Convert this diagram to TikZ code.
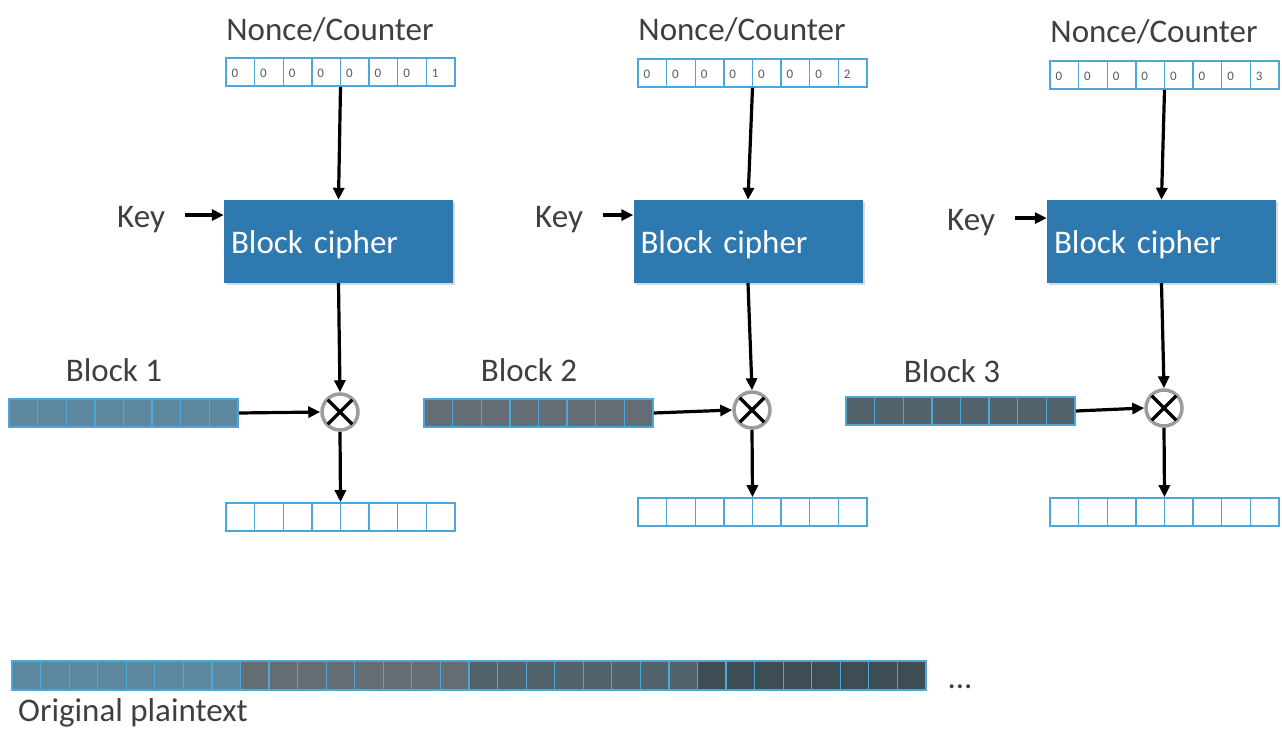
\documentclass[tikz,border=0pt]{standalone}
\usepackage{fontspec}
\setmainfont{Carlito}
\usetikzlibrary{arrows.meta,shadows}

\definecolor{cellline}{HTML}{4DA6D9}
\definecolor{cipherblue}{HTML}{2F79B1}
\definecolor{txt}{HTML}{3C4043}
\definecolor{digit}{HTML}{555A5E}
\definecolor{pA}{HTML}{5D879C}
\definecolor{pB}{HTML}{646D73}
\definecolor{pC}{HTML}{52626A}
\definecolor{pD}{HTML}{3E4D54}
\definecolor{ring}{HTML}{9C9C9C}

% a row of eight cells, named #1, top-left corner (#2,#3), fill #4
\newcommand{\cellrow}[4]{%
  \node[rowbox, fill=#4] (#1) at (#2+114.5, #3+14) {};
  \foreach \i in {1,...,7}
    \draw[cellline, line width=1.4pt] (#2+\i*28.625, #3) -- ++(0,28);
}
% the eight counter digits of a row starting at (#1,#2)
\newcommand{\counterdigits}[3]{%
  \foreach \d [count=\k] in {#3}
    \node[digitlbl] at (#1+\k*28.625-28.625+2, #2+15) {\d};
}

\begin{document}
\begin{tikzpicture}[x=1pt, y=-1pt,
  rowbox/.style={draw=cellline, line width=1.6pt, minimum width=229pt,
    minimum height=28pt, inner sep=0pt},
  digitlbl/.style={anchor=west, font=\fontsize{13}{13}\selectfont, text=digit},
  lbl/.style={anchor=base, font=\fontsize{33}{33}\selectfont, text=txt, inner sep=0pt},
  cipherbox/.style={fill=cipherblue, minimum width=229pt, minimum height=83pt,
    text width=215pt, align=left, inner xsep=7pt, text=white,
    text height=23pt, text depth=0pt, font=\fontsize{33}{33}\selectfont,
    drop shadow={shadow xshift=2pt, shadow yshift=-2pt, opacity=0.3}},
  xorop/.style={circle, draw=ring, line width=3.5pt, fill=white,
    minimum size=36pt, inner sep=0pt},
  arr/.style={line width=3.2pt, -{Triangle[length=12pt, width=11pt]}}]

\useasboundingbox (0,0) rectangle (1282,728);

% ---------- labels on top ----------
\node[lbl] (nl1) at (330,40) {Nonce/Counter};
\node[lbl] (nl2) at (742,40) {Nonce/Counter};
\node[lbl] (nl3) at (1154,42) {Nonce/Counter};

% ---------- counter rows ----------
\cellrow{n1}{226}{58}{white}
\cellrow{n2}{638}{59}{white}
\cellrow{n3}{1050}{61}{white}
\counterdigits{226}{58}{0,0,0,0,0,0,0,1}
\counterdigits{638}{59}{0,0,0,0,0,0,0,2}
\counterdigits{1050}{61}{0,0,0,0,0,0,0,3}

% ---------- block ciphers ----------
\node[cipherbox] (c1) at (338.5,241.5) {Block cipher};
\node[cipherbox] (c2) at (748,241.5) {Block cipher};
\node[cipherbox] (c3) at (1161.5,241.5) {Block cipher};

\node[lbl, anchor=base west] (k1) at (117,227) {Key};
\node[lbl, anchor=base west] (k2) at (535,227) {Key};
\node[lbl, anchor=base west] (k3) at (947,230) {Key};

% ---------- XOR operators ----------
\foreach \n/\x/\y in {x1/340/412, x2/752/410, x3/1164/408} {
  \node[xorop] (\n) at (\x,\y) {};
  \draw[line width=3.4pt]
    ([shift={(-45:2.5pt)}]\n.north west) -- ([shift={(135:2.5pt)}]\n.south east);
  \draw[line width=3.4pt]
    ([shift={(-135:2.5pt)}]\n.north east) -- ([shift={(45:2.5pt)}]\n.south west);
}

% ---------- plaintext blocks ----------
\node[lbl] (bl1) at (114,381) {Block 1};
\node[lbl] (bl2) at (529,381) {Block 2};
\node[lbl] (bl3) at (952,382) {Block 3};
\cellrow{b1}{9}{399}{pA}
\cellrow{b2}{424}{399}{pB}
\cellrow{b3}{846}{397}{pC}

% ---------- output rows ----------
\cellrow{o1}{226}{503}{white}
\cellrow{o2}{638}{498}{white}
\cellrow{o3}{1050}{498}{white}

% ---------- connectors ----------
\foreach \i in {1,2,3} {
  \draw[arr] (n\i.south) -- (c\i.north);
  \draw[arr] (c\i.south) -- (x\i.north);
  \draw[arr] (b\i.east) -- (x\i.west);
  \draw[arr] (x\i.south) -- (o\i.north);
  \coordinate (ks\i) at ([xshift=20pt, yshift=4pt]k\i.east);
  \draw[arr] (ks\i) -- (c\i.west |- ks\i);
}

% ---------- original plaintext ----------
\foreach \c [count=\g from 0] in {pA,pB,pC,pD}
  \foreach \j in {0,...,7}
    \draw[cellline, line width=1.2pt, fill=\c]
      (12+\g*228.5+\j*28.5625, 661) rectangle ++(28.5625,29);
\node[draw=cellline, line width=1.4pt, minimum width=914pt, minimum height=29pt,
  inner sep=0pt] (plain) at (469,675.5) {};
\node[lbl] (more) at (960,688) {...};
\node[lbl, anchor=base west] (pt) at (18,721) {Original plaintext};

\end{tikzpicture}
\end{document}
